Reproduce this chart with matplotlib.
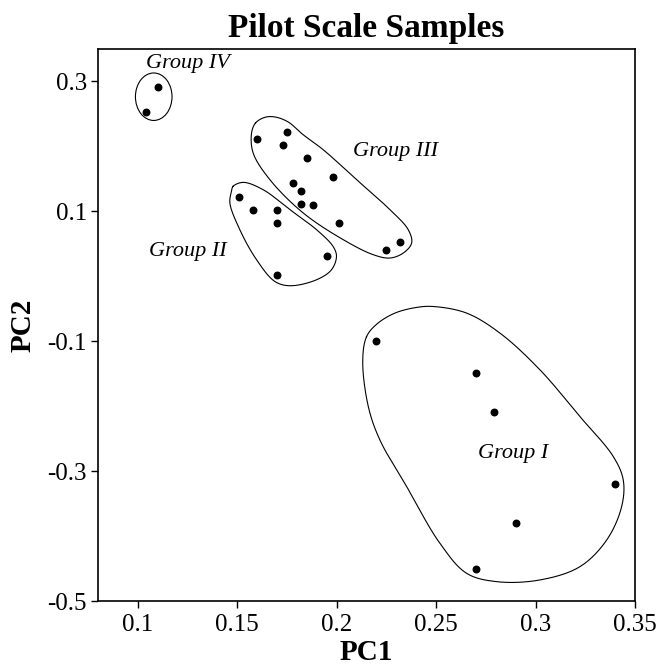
import numpy as np
import matplotlib
matplotlib.use("Agg")
import matplotlib.pyplot as plt
from matplotlib.patches import Ellipse

plt.rcParams['font.family'] = ['Liberation Serif', 'DejaVu Serif']
plt.rcParams['axes.unicode_minus'] = False

# PCA scores
g1_x = [0.220, 0.270, 0.279, 0.340, 0.290, 0.270]
g1_y = [-0.099, -0.149, -0.209, -0.320, -0.379, -0.450]

g2_x = [0.151, 0.158, 0.170, 0.170, 0.195, 0.170]
g2_y = [0.122, 0.102, 0.102, 0.082, 0.031, 0.002]

g3_x = [0.160, 0.175, 0.173, 0.185, 0.198, 0.178, 0.182, 0.182, 0.188, 0.201, 0.225, 0.232]
g3_y = [0.211, 0.222, 0.202, 0.182, 0.152, 0.143, 0.131, 0.111, 0.109, 0.082, 0.041, 0.052]

g4_x = [0.110, 0.104]
g4_y = [0.291, 0.252]

xticks = [0.1, 0.15, 0.2, 0.25, 0.3, 0.35]
xtick_labels = ['0.1', '0.15', '0.2', '0.25', '0.3', '0.35']
yticks = [0.3, 0.1, -0.1, -0.3, -0.5]
ytick_labels = ['0.3', '0.1', '-0.1', '-0.3', '-0.5']

# hand drawn group outlines (data units)
out1 = [(0.2150, -0.0930), (0.2200, -0.0740), (0.2290, -0.0570), (0.2400, -0.0480),
        (0.2485, -0.0465), (0.2653, -0.0566), (0.2821, -0.0874), (0.3022, -0.1438),
        (0.3223, -0.2157), (0.3391, -0.2772), (0.3441, -0.3131), (0.3433, -0.3542),
        (0.3358, -0.4054), (0.3223, -0.4465), (0.3022, -0.4669), (0.2804, -0.4695),
        (0.2653, -0.4566), (0.2519, -0.4105), (0.2352, -0.3234), (0.2217, -0.2515),
        (0.2159, -0.2003), (0.2131, -0.1300)]
out2 = [(0.1479, 0.1382), (0.1530, 0.1443), (0.1630, 0.1331), (0.1765, 0.1023),
        (0.1899, 0.0715), (0.1982, 0.0458), (0.1999, 0.0305), (0.1974, 0.0100),
        (0.1899, -0.0054), (0.1765, -0.0146), (0.1689, -0.0080), (0.1597, 0.0254),
        (0.1513, 0.0715), (0.1463, 0.1126), (0.1471, 0.1305)]
out3 = [(0.1592, 0.2357), (0.1639, 0.2443), (0.1689, 0.2449), (0.1756, 0.2372),
        (0.1831, 0.2177), (0.1932, 0.1946), (0.2100, 0.1485), (0.2268, 0.1023),
        (0.2360, 0.0715), (0.2377, 0.0511), (0.2335, 0.0357), (0.2268, 0.0280),
        (0.2184, 0.0331), (0.2033, 0.0562), (0.1832, 0.0972), (0.1664, 0.1485),
        (0.1580, 0.1895), (0.1572, 0.2203)]

XSCALE = 3.06  # x units are ~3x denser on screen than y units


def smooth_closed(pts, n=30, alpha=0.5):
    # centripetal catmull-rom, closed loop
    p = np.array(pts, dtype=float)
    p[:, 0] *= XSCALE
    m = len(p)
    res = []
    for i in range(m):
        P0, P1, P2, P3 = p[i - 1], p[i], p[(i + 1) % m], p[(i + 2) % m]
        t0 = 0.0
        t1 = t0 + np.linalg.norm(P1 - P0) ** alpha
        t2 = t1 + np.linalg.norm(P2 - P1) ** alpha
        t3 = t2 + np.linalg.norm(P3 - P2) ** alpha
        t = np.linspace(t1, t2, n, endpoint=False)[:, None]
        A1 = (t1 - t) / (t1 - t0) * P0 + (t - t0) / (t1 - t0) * P1
        A2 = (t2 - t) / (t2 - t1) * P1 + (t - t1) / (t2 - t1) * P2
        A3 = (t3 - t) / (t3 - t2) * P2 + (t - t2) / (t3 - t2) * P3
        B1 = (t2 - t) / (t2 - t0) * A1 + (t - t0) / (t2 - t0) * A2
        B2 = (t3 - t) / (t3 - t1) * A2 + (t - t1) / (t3 - t1) * A3
        res.append((t2 - t) / (t2 - t1) * B1 + (t - t1) / (t2 - t1) * B2)
    res = np.vstack(res)
    res = np.vstack([res, res[:1]])
    res[:, 0] /= XSCALE
    return res


fig = plt.figure(figsize=(6.58, 6.71), dpi=100)
ax = fig.add_axes([0.149, 0.1036, 0.816, 0.824])

for xs, ys in [(g1_x, g1_y), (g2_x, g2_y), (g3_x, g3_y), (g4_x, g4_y)]:
    ax.scatter(xs, ys, s=22, color='black', zorder=3)

for o in [out1, out2, out3]:
    c = smooth_closed(o)
    ax.plot(c[:, 0], c[:, 1], color='black', lw=0.8)

ax.add_patch(Ellipse((0.108, 0.276), 0.0184, 0.073, fill=False, ec='black', lw=0.8))

lab = dict(fontsize=16, style='italic', ha='center', va='center')
ax.text(0.1254, 0.327, 'Group IV', **lab)
ax.text(0.2298, 0.1915, 'Group III', **lab)
ax.text(0.1253, 0.0385, 'Group II', **lab)
ax.text(0.2886, -0.273, 'Group I', **lab)

ax.set_xlim(0.08, 0.35)
ax.set_ylim(-0.5, 0.35)
ax.set_xticks(xticks)
ax.set_xticklabels(xtick_labels)
ax.set_yticks(yticks)
ax.set_yticklabels(ytick_labels)
ax.tick_params(direction='out', length=5, width=1, labelsize=18, pad=3)
ax.tick_params(axis='x', pad=4)
for s in ax.spines.values():
    s.set_linewidth(1.2)

ax.set_title('Pilot Scale Samples', fontsize=24, fontweight='bold', pad=8)
ax.set_xlabel('PC1', fontsize=21, fontweight='bold', labelpad=2)
ax.set_ylabel('PC2', fontsize=21, fontweight='bold', labelpad=8)

fig.savefig('out.png', dpi=100)
